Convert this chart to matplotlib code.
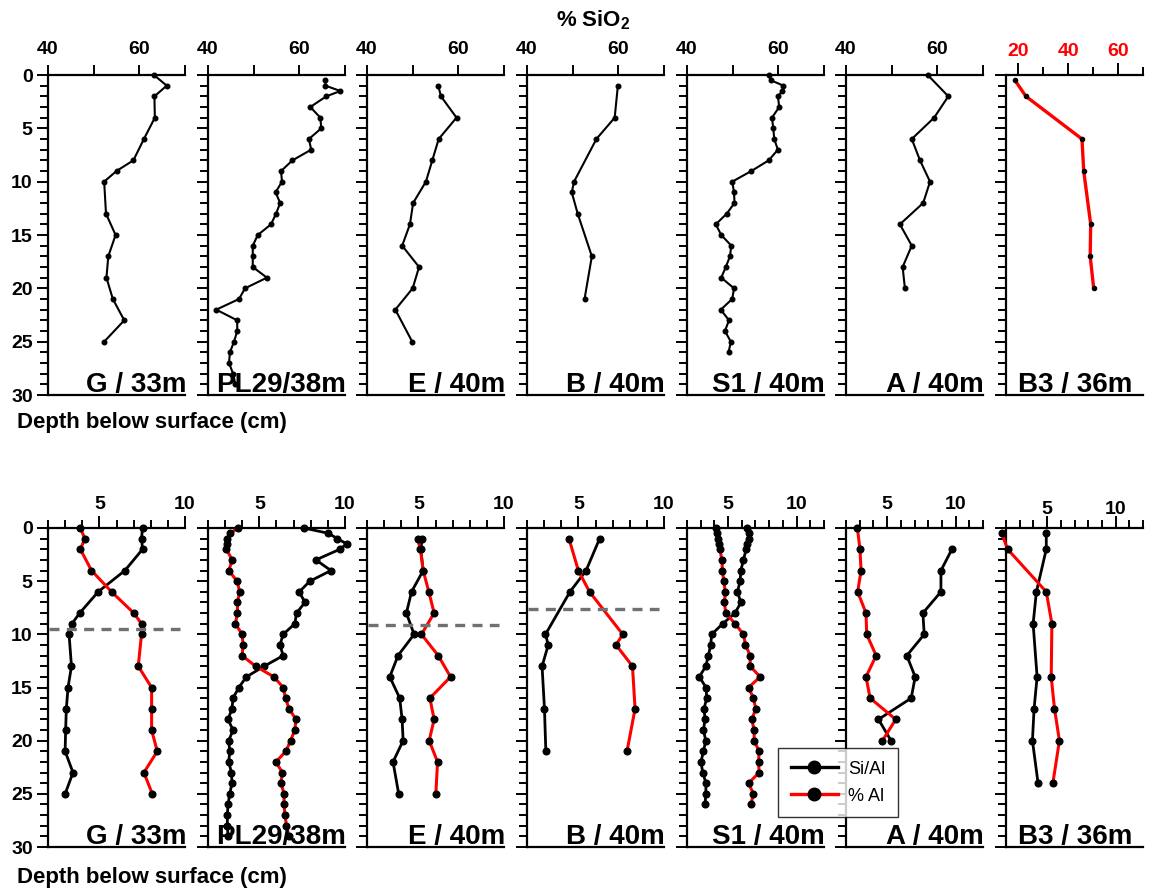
import matplotlib
matplotlib.use("Agg")
import matplotlib.pyplot as plt
from matplotlib.ticker import MultipleLocator
from matplotlib.lines import Line2D

plt.rcParams['font.family'] = ['Liberation Sans', 'DejaVu Sans']
plt.rcParams['mathtext.default'] = 'regular'

# core names, one column per core
core_names = ['G / 33m', 'PL29/38m', 'E / 40m', 'B / 40m', 'S1 / 40m', 'A / 40m', 'B3 / 36m']

# ---- G ----
g_depth = [0, 1, 2, 4, 6, 8, 9, 10, 13, 15, 17, 19, 21, 23, 25]
g_sio2 = [63.2, 66.0, 63.3, 63.4, 61.0, 58.7, 55.0, 52.3, 52.7, 54.8, 53.2, 52.8, 54.2, 56.7, 52.3]
g_sial = [7.52, 7.46, 7.52, 6.49, 4.93, 3.85, 3.40, 3.23, 3.37, 3.17, 3.07, 3.03, 3.0, 3.46, 3.0]
g_al = [3.89, 4.15, 3.89, 4.54, 5.71, 7.01, 7.46, 7.46, 7.27, 8.05, 8.05, 8.05, 8.38, 7.6, 8.09]

# ---- PL29 ----
pl_depth_si = [0.5, 1, 1.5, 2, 3, 4, 5, 6, 7, 8, 9, 10, 11, 12, 13, 14, 15, 16, 17, 18,
               19, 20, 21, 22, 23, 24, 25, 26, 27, 28, 29]
pl_sio2 = [65.7, 65.7, 69.0, 65.9, 62.4, 64.6, 64.8, 62.1, 62.6, 58.5, 56.0, 56.2, 54.8, 55.8,
           54.9, 53.8, 50.9, 49.8, 49.8, 49.8, 52.9, 48.1, 46.8, 41.8, 46.4, 46.4, 45.7, 44.8,
           44.6, 45.5, 46.0]
pl_depth = [0, 0.5, 1, 1.5, 2, 3, 4, 5, 6, 7, 8, 9, 10, 11, 12, 13, 14, 15, 16, 17, 18,
            19, 20, 21, 22, 23, 24, 25, 26, 27, 28, 29]
pl_sial = [7.6, 9.03, 9.56, 10.1, 9.7, 8.3, 9.18, 7.95, 7.33, 7.66, 7.17, 7.07, 6.39, 6.2,
           6.39, 5.28, 4.24, 3.8, 3.46, 3.4, 3.17, 3.46, 3.21, 3.27, 3.21, 3.37, 3.4, 3.27,
           3.17, 3.13, 3.13, 3.17]
pl_al = [3.76, 3.27, 3.13, 3.13, 3.07, 3.42, 3.21, 3.7, 3.85, 3.72, 3.72, 3.6, 3.99, 4.05,
         3.99, 4.78, 5.85, 6.39, 6.53, 6.73, 7.14, 7.07, 6.82, 6.55, 5.96, 6.35, 6.25, 6.45,
         6.43, 6.5, 6.58, 6.73]

# ---- E ----
e_depth = [1, 2, 4, 6, 8, 10, 12, 14, 16, 18, 20, 22, 25]
e_sio2 = [55.6, 56.2, 59.6, 55.7, 54.3, 52.9, 50.1, 49.4, 47.7, 51.4, 50.0, 46.2, 49.9]
e_sial = [5.22, 5.14, 5.28, 4.6, 4.3, 4.75, 3.81, 3.33, 3.91, 4.05, 4.11, 3.52, 3.85]
e_al = [4.95, 5.12, 5.28, 5.61, 5.92, 5.18, 6.16, 6.88, 5.67, 5.92, 5.63, 6.12, 6.02]

# ---- B ----
b_depth = [1, 4, 6, 10, 11, 13, 17, 21]
b_sio2 = [59.9, 59.2, 55.2, 50.3, 49.8, 51.1, 54.2, 52.6]
b_sial = [6.24, 5.45, 4.51, 3.08, 3.24, 2.88, 3.02, 3.1]
b_al = [4.45, 5.0, 5.65, 7.59, 7.2, 8.16, 8.31, 7.84]

# ---- S1 ----
s1_depth = [0, 0.5, 1, 1.5, 2, 3, 4, 5, 6, 7, 8, 9, 10, 11, 12, 13, 14, 15, 16, 17, 18,
            19, 20, 21, 22, 23, 24, 25, 26]
s1_sio2 = [57.9, 58.4, 61.1, 60.9, 59.9, 60.2, 58.6, 58.9, 59.1, 59.9, 57.9, 54.1, 49.9, 50.3,
           50.4, 48.7, 46.3, 47.5, 49.7, 49.4, 48.5, 47.5, 50.3, 49.9, 47.4, 49.2, 48.3, 49.6, 49.1]
s1_sial = [6.41, 6.49, 6.51, 6.41, 6.32, 6.12, 5.93, 5.88, 5.68, 5.93, 5.51, 4.61, 3.8, 3.73,
           3.56, 3.37, 2.9, 3.39, 3.44, 3.24, 3.32, 3.2, 3.37, 3.2, 3.02, 3.15, 3.39, 3.37, 3.32]
s1_al = [4.12, 4.22, 4.29, 4.37, 4.41, 4.54, 4.59, 4.68, 4.8, 4.73, 4.83, 5.51, 6.12, 6.27,
         6.61, 6.61, 7.34, 6.49, 6.85, 7.02, 6.73, 6.9, 6.9, 7.27, 7.22, 7.27, 6.49, 6.85, 6.66]

# ---- A ----
a_depth = [0, 2, 4, 6, 8, 10, 12, 14, 16, 18, 20]
a_sio2 = [57.9, 62.4, 59.3, 54.4, 56.2, 58.4, 56.9, 51.8, 54.4, 52.4, 52.9]
a_depth_sial = [2, 4, 6, 8, 10, 12, 14, 16, 18, 20]
a_sial = [9.73, 8.93, 8.93, 7.61, 7.71, 6.44, 7.05, 6.76, 4.37, 5.29]
a_al = [2.83, 3.02, 3.1, 2.85, 3.46, 3.51, 4.2, 3.46, 3.76, 5.63, 4.66]

# ---- B3 ----
b3_depth_si = [0.5, 2, 6, 9, 14, 17, 20]
b3_sio2 = [18.6, 23.0, 45.5, 46.2, 49.0, 48.8, 50.2]
b3_depth = [0.5, 2, 6, 9, 14, 17, 20, 24]
b3_sial = [4.94, 4.94, 4.22, 3.98, 4.27, 4.05, 3.93, 4.34]
b3_al = [1.69, 2.12, 4.94, 5.35, 5.3, 5.54, 5.9, 5.42]

# depth of the dashed horizon in G, E and B
dash_depth = {0: 9.5, 2: 9.1, 3: 7.6}

sio2_profiles = [(g_depth, g_sio2), (pl_depth_si, pl_sio2), (e_depth, e_sio2),
                 (b_depth, b_sio2), (s1_depth, s1_sio2), (a_depth, a_sio2),
                 (b3_depth_si, b3_sio2)]
sial_profiles = [(g_depth, g_sial), (pl_depth, pl_sial), (e_depth, e_sial),
                 (b_depth, b_sial), (s1_depth, s1_sial), (a_depth_sial, a_sial),
                 (b3_depth, b3_sial)]
al_profiles = [(g_depth, g_al), (pl_depth, pl_al), (e_depth, e_al),
               (b_depth, b_al), (s1_depth, s1_al), (a_depth, a_al),
               (b3_depth, b3_al)]

W, H = 1153, 889
fig = plt.figure(figsize=(W / 100, H / 100), dpi=100)

panel_lefts = [48, 208, 367, 527, 687, 846, 1006]
panel_w = 137


def make_axes(i, top_px, bottom_px):
    ax = fig.add_axes([panel_lefts[i] / W, 1 - bottom_px / H,
                       panel_w / W, (bottom_px - top_px) / H])
    ax.set_ylim(30, 0)
    ax.spines['right'].set_visible(False)
    for s in ['left', 'top', 'bottom']:
        ax.spines[s].set_linewidth(1.6)
    ax.xaxis.tick_top()
    ax.yaxis.set_major_locator(MultipleLocator(5))
    ax.yaxis.set_minor_locator(MultipleLocator(1))
    ax.tick_params(axis='y', which='major', direction='out', length=8, width=1.4,
                   labelsize=14, pad=3)
    ax.tick_params(axis='y', which='minor', direction='out', length=5.5, width=1.4)
    if i == 0:
        for lab in ax.get_yticklabels():
            lab.set_fontweight('bold')
    else:
        ax.tick_params(axis='y', labelleft=False)
    ax.patch.set_alpha(0)
    return ax


def core_label(ax, i):
    dx = -11 if i == 6 else 1
    ax.annotate(core_names[i], xy=(1, 0), xycoords='axes fraction',
                xytext=(dx, 3), textcoords='offset pixels',
                ha='right', va='baseline', fontsize=20, fontweight='bold', zorder=5)


# top row: % SiO2
for i in range(7):
    ax = make_axes(i, 75, 395)
    d, v = sio2_profiles[i]
    if i == 6:
        ax.set_xlim(15, 70)
        ax.set_xticks([20, 40, 60])
        ax.xaxis.set_minor_locator(MultipleLocator(10))
        ax.tick_params(axis='x', which='major', length=9, width=1.4, labelsize=14,
                       labelcolor='red', pad=1.5)
        ax.tick_params(axis='x', which='minor', length=5.5, width=1.4)
        ax.plot(v, d, color='red', lw=2.4, marker='o', ms=3, mfc='black', mec='black',
                clip_on=False)
    else:
        ax.set_xlim(40, 70)
        ax.set_xticks([40, 50, 60, 70])
        ax.set_xticklabels(['40', '', '60', ''])
        ax.tick_params(axis='x', which='major', length=7.5, width=1.4, labelsize=14, pad=5)
        ax.plot(v, d, color='black', lw=1.5, marker='o', ms=3.3, clip_on=False)
    for lab in ax.get_xticklabels():
        lab.set_fontweight('bold')
    core_label(ax, i)

# bottom row: Si/Al and % Al
for i in range(7):
    ax = make_axes(i, 528, 847)
    if i < 4:
        ax.set_xlim(2, 10)
    else:
        ax.set_xlim(2, 12)
    ax.set_xticks([5, 10])
    ax.xaxis.set_minor_locator(MultipleLocator(1))
    ax.tick_params(axis='x', which='major', length=9, width=1.4, labelsize=14,
                   pad=-1.5 if i == 6 else 2)
    ax.tick_params(axis='x', which='minor', length=5.5, width=1.4)
    for lab in ax.get_xticklabels():
        lab.set_fontweight('bold')
    d, v = sial_profiles[i]
    ax.plot(v, d, color='black', lw=2, marker='o', ms=4.8, clip_on=False, zorder=3)
    d, v = al_profiles[i]
    ax.plot(v, d, color='red', lw=2.2, marker='o', ms=4.8, mfc='black', mec='black',
            clip_on=False, zorder=3)
    if i in dash_depth:
        ax.plot([2.05, 9.7], [dash_depth[i]] * 2, color='#707070', lw=2.4,
                dashes=(3, 2.2), zorder=4)
    core_label(ax, i)

fig.text(593 / W, 1 - 20 / H, '% SiO$_2$', ha='center', va='center',
         fontsize=16, fontweight='bold')
fig.text(17 / W, 1 - 423 / H, 'Depth below surface (cm)', ha='left', va='center',
         fontsize=16, fontweight='bold')
fig.text(17 / W, 1 - 877 / H, 'Depth below surface (cm)', ha='left', va='center',
         fontsize=16, fontweight='bold')

handles = [Line2D([], [], color='black', lw=2.4, marker='o', ms=9),
           Line2D([], [], color='red', lw=2.4, marker='o', ms=9, mfc='black', mec='black')]
leg = fig.legend(handles, ['Si/Al', '% Al'], loc='upper left',
                 bbox_to_anchor=(778 / W, 1 - 748 / H), fontsize=13,
                 fancybox=False, edgecolor='black', handlelength=2.6,
                 borderpad=0.7, labelspacing=0.55, handletextpad=0.6,
                 borderaxespad=0)
leg.get_frame().set_linewidth(1.0)

fig.savefig('out.png', dpi=100)
